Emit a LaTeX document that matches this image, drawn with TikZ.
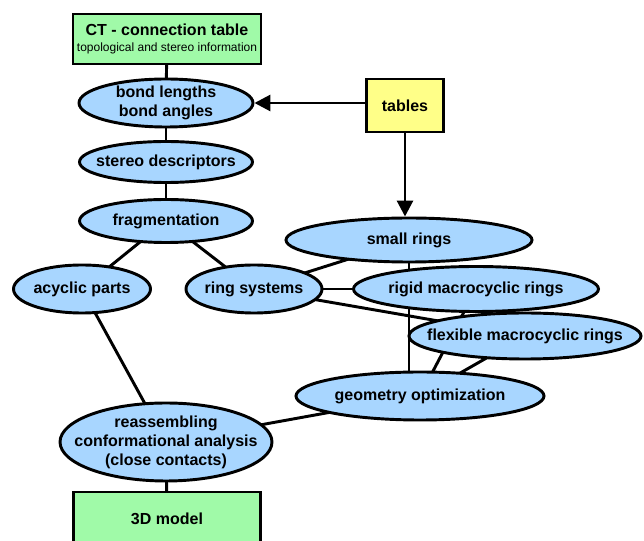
\documentclass[tikz,border=0pt]{standalone}
\usepackage{fontspec}
\setmainfont{Liberation Sans}
\usetikzlibrary{shapes.geometric,arrows.meta,backgrounds}
\definecolor{ebl}{RGB}{168,214,255}
\definecolor{bgr}{RGB}{160,250,168}
\definecolor{byl}{RGB}{255,255,136}
\begin{document}
\begin{tikzpicture}[x=0.75pt,y=-0.75pt,
  every node/.style={font=\fontsize{12}{14.25}\selectfont\bfseries},
  ell/.style={ellipse,draw=black,line width=2.2pt,fill=ebl,inner xsep=-30pt,inner ysep=-4pt,align=center},
  gbox/.style={rectangle,draw=black,line width=2.2pt,fill=bgr,align=center,inner sep=0pt},
  ybox/.style={rectangle,draw=black,line width=2.2pt,fill=byl,inner sep=0pt},
  conn/.style={line width=2.2pt},
  arr/.style={line width=2.2pt,-{Triangle[length=12pt,width=12pt]}}]
\useasboundingbox (0,0) rectangle (644,541);
\node[gbox,minimum width=141pt,minimum height=37.5pt] (ct) at (167,39)
  {CT - connection table\\[-2pt]{\fontsize{9}{10}\selectfont\mdseries topological and stereo information}};
\node[ell,minimum width=130.5pt,minimum height=36pt] (bond) at (166,103) {bond lengths\\bond angles};
\node[ybox,minimum width=57.75pt,minimum height=39.75pt] (tables) at (405,105.5) {tables};
\node[ell,minimum width=129.75pt,minimum height=30.75pt] (stereo) at (166,162) {stereo descriptors};
\node[ell,minimum width=129.75pt,minimum height=32.25pt] (frag) at (166,221) {fragmentation};
\node[ell,minimum width=102.75pt,minimum height=36pt] (acyc) at (82,289) {acyclic parts};
\node[ell,minimum width=102pt,minimum height=36pt] (ring) at (254,289) {ring systems};
\node[ell,minimum width=184.5pt,minimum height=33pt] (small) at (409,240) {small rings};
\node[ell,minimum width=183.75pt,minimum height=33.75pt] (rigid) at (476,289) {rigid macrocyclic rings};
\node[ell,minimum width=174pt,minimum height=34.5pt] (flex) at (525,336) {flexible macrocyclic rings};
\node[ell,minimum width=186pt,minimum height=36pt] (geom) at (420,396) {geometry optimization};
\node[ell,minimum width=159pt,minimum height=58.5pt] (reas) at (166,442) {reassembling\\conformational analysis\\(close contacts)};
\node[gbox,minimum width=140.25pt,minimum height=40.5pt] (model) at (167,519) {3D model};
\begin{pgfonlayer}{background}
\draw[conn] (ct.center) -- (bond.center);
\draw[conn] (bond.center) -- (stereo.center);
\draw[conn] (stereo.center) -- (frag.center);
\draw[conn] (frag.center) -- (acyc.center);
\draw[conn] (frag.center) -- (ring.center);
\draw[conn] (acyc.center) -- (reas.center);
\draw[conn] (reas.center) -- (model.center);
\draw[conn] (ring.center) -- (small.center);
\draw[conn] (ring.center) -- (rigid.center);
\draw[conn] (ring.center) -- (flex.center);
\draw[conn] (small.center) -- (small.center |- geom.center);
\draw[conn] (rigid.center) -- (geom.center);
\draw[conn] (flex.center) -- (geom.center);
\draw[conn] (geom.center) -- (reas.center);
\end{pgfonlayer}
\draw[arr] (tables.west |- bond.east) -- (bond.east);
\draw[arr] (tables.south) -- (tables.south |- small.north);
\end{tikzpicture}
\end{document}
